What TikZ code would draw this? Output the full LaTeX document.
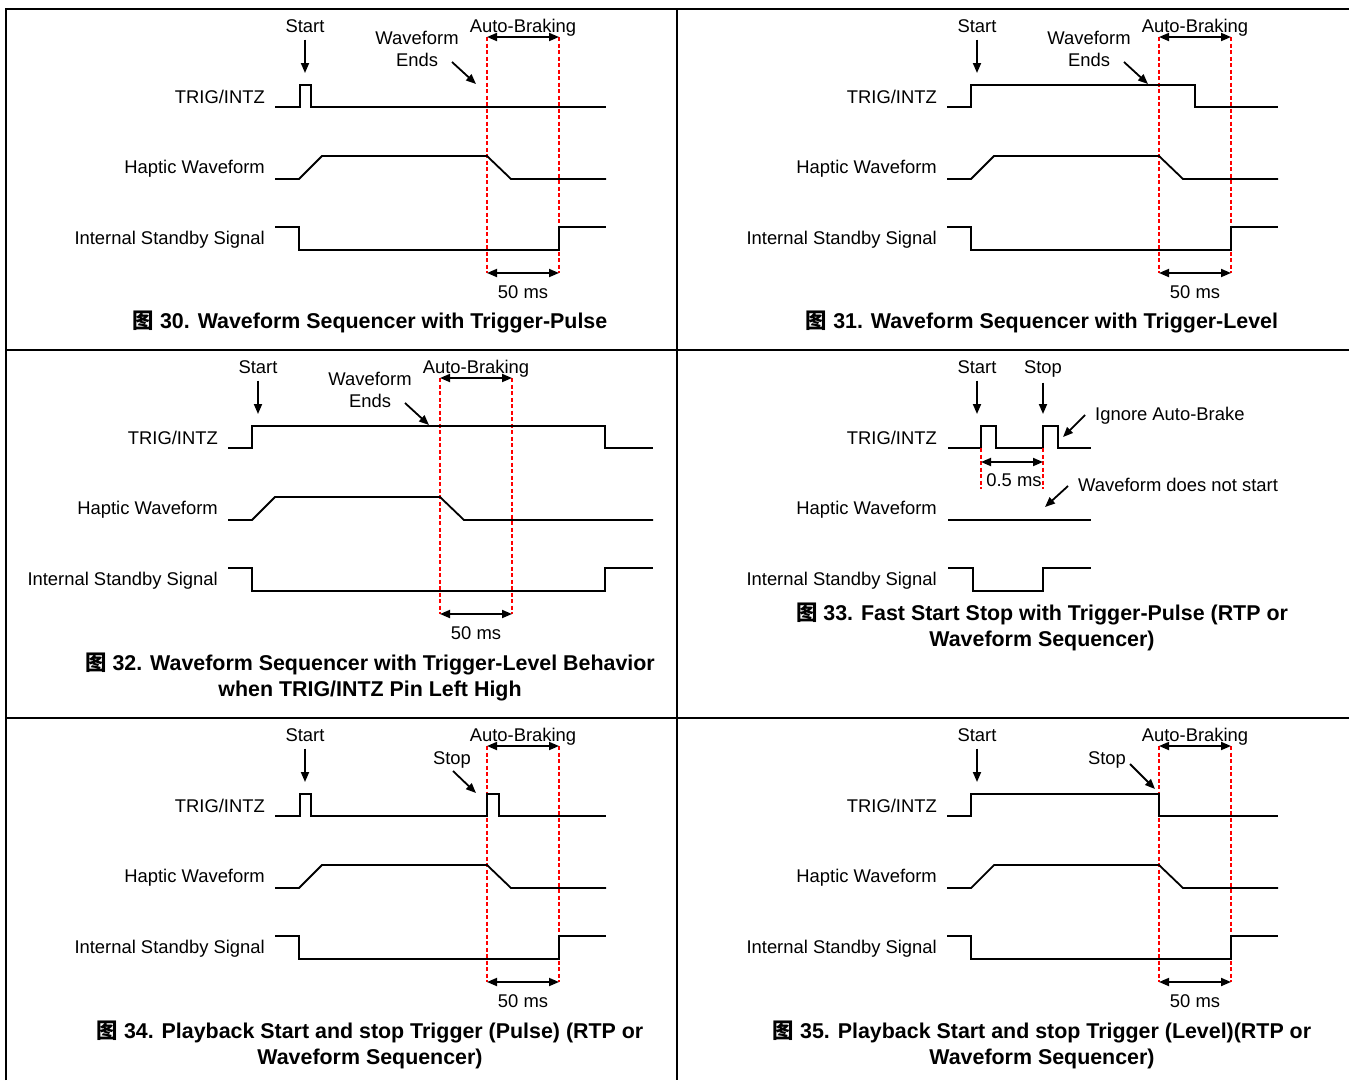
\documentclass[tikz,border=0pt]{standalone}
\usepackage{fontspec}
\setmainfont{Liberation Sans}
\newfontfamily\cjk{Noto Sans CJK SC}
\usetikzlibrary{arrows.meta}

\newcommand{\bild}{{\cjk 图}}

\begin{document}
\begin{tikzpicture}[x=1pt, y=-1pt]
    \tikzset{
        rahmen/.style={line width=1.8pt},
        signal/.style={line width=1.8pt},
        markierung/.style={red, line width=1.4pt, dash pattern=on 4pt off 2.5pt},
        pfeil/.style={line width=1.8pt, -{Triangle[length=10pt, width=8pt]}},
        doppelpfeil/.style={line width=1.8pt, {Triangle[length=10pt, width=8pt]}-{Triangle[length=10pt, width=8pt]}},
        beschriftung/.style={font=\fontsize{18.4}{22}\selectfont, inner sep=0pt, align=center},
        titel/.style={font=\fontsize{21.4}{26}\selectfont\bfseries, inner sep=0pt, align=center}
    }

    \useasboundingbox (0,0) rectangle (1349,1080);

    % Tabellenrahmen
    \draw[rahmen] (6,1080) -- (6,9) -- (1349,9);
    \draw[rahmen] (677,9) -- (677,1080);
    \draw[rahmen] (6,350) -- (1349,350);
    \draw[rahmen] (6,718) -- (1349,718);

    \foreach \dx / \dy / \nr in {0/0/30, 672/0/31, -47/341/32, 672/341/33, 0/709/34, 672/709/35} {
        \begin{scope}[shift={(\dx,\dy)}]
            % --- Signalnamen ---
            \node[beschriftung, anchor=east] (trig) at (265,97) {TRIG/INTZ};
            \node[beschriftung, anchor=east] (haptik) at (265,169) {Haptic Waveform};
            \node[beschriftung, anchor=east] (standby) at (265,240) {Internal Standby Signal};

            % Start
            \node[beschriftung] (start) at (305,26) {Start};
            \coordinate (startziel) at (305,73);
            \draw[pfeil, shorten <=7pt] (start.south) -- (startziel);

            \ifnum \nr=32 \def\ende{700}\def\hoch{652} \else \def\ende{606}\def\hoch{559} \fi

            \ifnum \nr=33
                % Fast Start Stop
                \draw[signal] (276,107) -- (309,107) -- (309,85) -- (324,85) -- (324,107) -- (371,107)
                    -- (371,85) -- (386,85) -- (386,107) -- (419,107);
                \draw[signal] (276,179) -- (419,179);
                \draw[signal] (276,227) -- (301,227) -- (301,250) -- (371,250) -- (371,227) -- (419,227);
                \draw[markierung] (309,107) -- (309,148);
                \draw[markierung] (371,107) -- (371,148);
                \coordinate (pulsA) at (309,121);
                \coordinate (pulsB) at (371,121);
                \draw[doppelpfeil] (pulsA) -- (pulsB);
                \node[beschriftung] (pulsdauer) at (342,139) {0.5 ms};
                \node[beschriftung] (stop) at (371,28) {Stop};
                \coordinate (stopziel) at (371,73);
                \draw[pfeil, shorten <=5pt] (stop.south) -- (stopziel);
                \node[beschriftung, anchor=west] (ignorieren) at (423,75) {Ignore Auto-Brake};
                \coordinate (ignorierenA) at (413,74);
                \coordinate (ignorierenB) at (391,96);
                \draw[pfeil] (ignorierenA) -- (ignorierenB);
                \node[beschriftung, anchor=west] (keinstart) at (406,144) {Waveform does not start};
                \coordinate (keinstartA) at (396,145);
                \coordinate (keinstartB) at (373,166);
                \draw[pfeil] (keinstartA) -- (keinstartB);
            \else
                % --- Auto-Braking ---
                \draw[markierung] (487,37) -- (487,273);
                \draw[markierung] (559,37) -- (559,273);
                \coordinate (bremsA) at (487,37);
                \coordinate (bremsB) at (559,37);
                \draw[doppelpfeil] (bremsA) -- (bremsB);
                \node[beschriftung] (bremsen) at (523,28) {Auto-Braking};
                \coordinate (dauerA) at (487,273);
                \coordinate (dauerB) at (559,273);
                \draw[doppelpfeil] (dauerA) -- (dauerB);
                \node[beschriftung] (dauer) at (523,292) {50 ms};

                % Haptic und Standby
                \draw[signal] (275,179) -- (299,179) -- (322,156) -- (487,156) -- (511,179) -- (\ende,179);
                \draw[signal] (275,227) -- (299,227) -- (299,250) -- (\hoch,250) -- (\hoch,227) -- (\ende,227);
            \fi

            % --- TRIG/INTZ ---
            \ifnum \nr=30
                \draw[signal] (275,107) -- (300,107) -- (300,85) -- (311,85) -- (311,107) -- (606,107);
            \fi
            \ifnum \nr=31
                \draw[signal] (275,107) -- (299,107) -- (299,85) -- (523,85) -- (523,107) -- (606,107);
            \fi
            \ifnum \nr=32
                \draw[signal] (275,107) -- (299,107) -- (299,85) -- (652,85) -- (652,107) -- (700,107);
            \fi
            \ifnum \nr=34
                \draw[signal] (275,107) -- (300,107) -- (300,85) -- (311,85) -- (311,107) -- (487,107)
                    -- (487,85) -- (499,85) -- (499,107) -- (606,107);
            \fi
            \ifnum \nr=35
                \draw[signal] (275,107) -- (299,107) -- (299,85) -- (487,85) -- (487,107) -- (606,107);
            \fi

            % Waveform Ends / Stop
            \ifnum \nr<33
                \node[beschriftung] (wendet) at (417,49) {Waveform\\Ends};
                \coordinate (wendetA) at (452,62);
                \coordinate (wendetB) at (476,84);
                \draw[pfeil] (wendetA) -- (wendetB);
            \fi
            \ifnum \nr=34
                \node[beschriftung] (stop) at (452,51) {Stop};
                \coordinate (stopA) at (453,62);
                \coordinate (stopB) at (476,84);
                \draw[pfeil] (stopA) -- (stopB);
            \fi
            \ifnum \nr=35
                \node[beschriftung] (stop) at (435,51) {Stop};
                \coordinate (stopA) at (458,55);
                \coordinate (stopB) at (483,80);
                \draw[pfeil] (stopA) -- (stopB);
            \fi
        \end{scope}
    }

    % --- Bildunterschriften ---
    \node[titel] (titel30) at (370,322) {\bild\ 30. Waveform Sequencer with Trigger-Pulse};
    \node[titel] (titel31) at (1042,322) {\bild\ 31. Waveform Sequencer with Trigger-Level};
    \node[titel] (titel32) at (370,677) {\bild\ 32. Waveform Sequencer with Trigger-Level Behavior\\when TRIG/INTZ Pin Left High};
    \node[titel] (titel33) at (1042,627) {\bild\ 33. Fast Start Stop with Trigger-Pulse (RTP or\\Waveform Sequencer)};
    \node[titel] (titel34) at (370,1045) {\bild\ 34. Playback Start and stop Trigger (Pulse) (RTP or\\Waveform Sequencer)};
    \node[titel] (titel35) at (1042,1045) {\bild\ 35. Playback Start and stop Trigger (Level)(RTP or\\Waveform Sequencer)};

\end{tikzpicture}
\end{document}
